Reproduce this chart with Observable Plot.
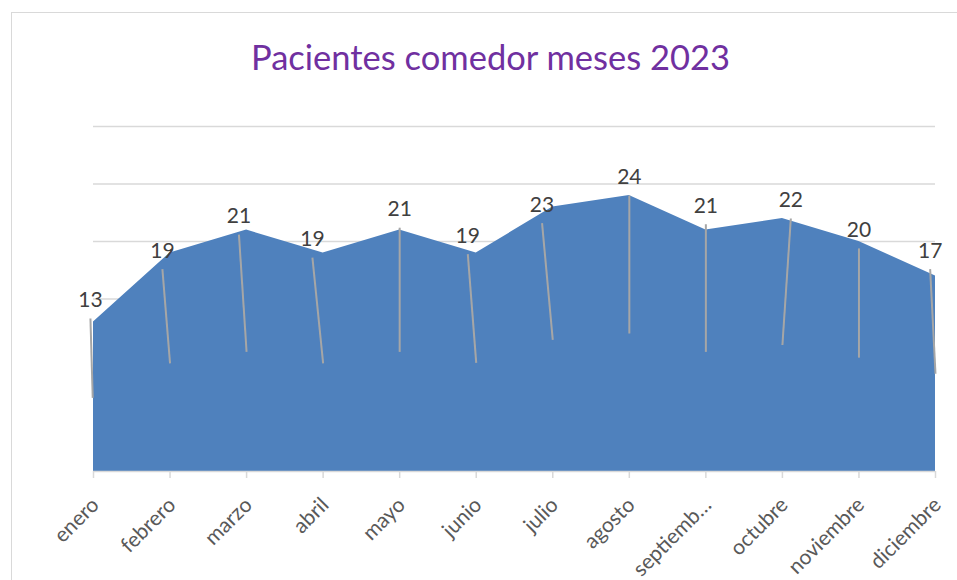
<!DOCTYPE html>
<html>
<head>
<meta charset="utf-8">
<script src="https://cdn.jsdelivr.net/npm/d3@7"></script>
<script src="https://cdn.jsdelivr.net/npm/@observablehq/plot@0.6"></script>
<style>
  html, body { margin: 0; padding: 0; background: #fff; overflow: hidden; width: 957px; height: 580px; }
  #wrap { position: relative; width: 957px; height: 580px; }
  #frame { position: absolute; left: 11px; top: 12px; width: 1100px; height: 1100px; border: 1.5px solid #d9d9d9; box-sizing: border-box; }
  #title { position: absolute; left: 0; width: 981px; top: 36px; text-align: center; font-family: Lato, "Open Sans", sans-serif; font-size: 34.5px; color: #7030a0; line-height: 42px; white-space: nowrap; }
  #chart { position: absolute; left: 0; top: 0; }
</style>
</head>
<body>
<div id="wrap">
  <div id="frame"></div>
  <div id="chart"></div>
  <div id="title">Pacientes comedor meses 2023</div>
</div>
<script>
const months = ["enero","febrero","marzo","abril","mayo","junio","julio","agosto","septiembre","octubre","noviembre","diciembre"];
const tickLabels = ["enero","febrero","marzo","abril","mayo","junio","julio","agosto","septiemb\u2026","octubre","noviembre","diciembre"];
const pacientes = [13, 19, 21, 19, 21, 19, 23, 24, 21, 22, 20, 17];
const yGrid = [5, 10, 15, 20, 25, 30];
// data-label leader lines (month index, patient units)
const leaderTopX = [-0.04, 0.90, 1.90, 2.86, 4.00, 4.89, 5.86, 7.00, 8.00, 9.11, 10.00, 10.93];
const leaderTopY = [13.3, 17.6, 20.6, 18.6, 21.2, 18.9, 21.6, 24.0, 21.5, 22.0, 19.4, 17.6];
const leaderBotX = [-0.01, 1.00, 2.00, 3.00, 4.00, 5.00, 6.00, 7.00, 8.00, 9.00, 10.00, 11.00];
const leaderBotY = [6.4, 9.4, 10.4, 9.4, 10.4, 9.45, 11.45, 12.0, 10.4, 11.0, 9.9, 8.5];

const idx = d3.range(months.length);
const data = idx.map(i => ({i, mes: months[i], v: pacientes[i]}));
const leaders = idx.map(i => ({v: pacientes[i], tx: leaderTopX[i], ty: leaderTopY[i], bx: leaderBotX[i], by: leaderBotY[i]}));

const font = "Lato, 'Open Sans', sans-serif";

const chart = Plot.plot({
  width: 957,
  height: 580,
  marginLeft: 93,
  marginRight: 22,
  marginTop: 126,
  marginBottom: 109,
  style: {background: "transparent", fontFamily: font},
  x: {type: "linear", domain: [0, 11], axis: null},
  y: {domain: [0, 30], axis: null},
  marks: [
    Plot.ruleY(yGrid, {stroke: "#d9d9d9", strokeWidth: 1.5}),
    Plot.areaY(data, {x: "i", y: "v", fill: "#4f81bd", curve: "linear"}),
    Plot.ruleY([0], {stroke: "#d9d9d9", strokeWidth: 1.5}),
    Plot.axisX({ticks: idx, tickSize: 7, tickFormat: () => "", stroke: "#d9d9d9", strokeWidth: 1.5}),
    Plot.link(leaders, {x1: "tx", y1: "ty", x2: "bx", y2: "by", stroke: "#a6a6a6", strokeWidth: 2}),
    Plot.text(leaders, {x: "tx", y: "ty", text: d => String(d.v), dy: -18, fontSize: 21, fill: "#404040", fontFamily: font}),
    Plot.text(idx, {x: d => d, text: d => tickLabels[d], frameAnchor: "bottom", rotate: -45, textAnchor: "end", lineAnchor: "middle", dy: 30, dx: 2, fontSize: 21, fill: "#595959", fontFamily: font})
  ]
});
document.getElementById("chart").appendChild(chart);
</script>
</body>
</html>
